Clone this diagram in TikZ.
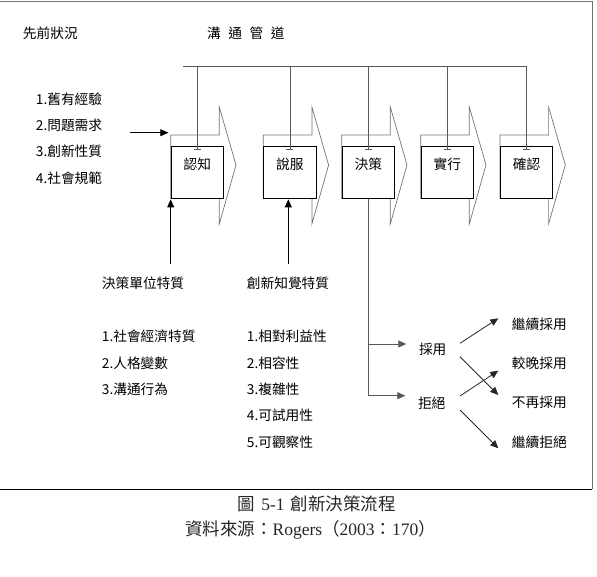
\documentclass[tikz,border=0pt]{standalone}
\usepackage{fontspec}
\setmainfont{Noto Sans CJK TC}
\newfontfamily\capserif{Liberation Serif}
\usetikzlibrary{arrows.meta}
\begin{document}
\begin{tikzpicture}[x=1pt,y=-1pt,
 txt/.style={font=\fontsize{13.7}{16}\selectfont, inner sep=0pt, anchor=west},
 lbl/.style={font=\fontsize{13.7}{16}\selectfont, inner sep=0pt},
 stagebox/.style={draw=black, line width=0.9pt, minimum width=52.3pt, minimum height=52.5pt, inner sep=0pt, anchor=north west},
 chev/.style={draw=black!55, line width=0.7pt},
 conn/.style={draw=black!65, line width=0.8pt},
 tri/.style={-{Triangle[length=8pt,width=7pt]}, line width=0.8pt},
 tee/.style={-{Bar[width=7pt]}, line width=0.8pt, draw=black!65},
 capt/.style={font=\fontsize{17.5}{20}\selectfont, inner sep=0pt, text=black!85}]
\useasboundingbox (0,0) rectangle (597,577);
% frame
\draw[black!55, line width=0.8pt] (0,1) -- (592.3,1) -- (592.3,489.3);
\draw[black, line width=1.4pt] (0,489.3) -- (592.3,489.3);
% chevrons
\foreach \L in {170.7,263.3,341.7,420.7,500}{
  \draw[chev] (\L,135) -- ({\L+48.6},135) -- ({\L+48.6},107) -- ({\L+65.3},165)
    -- ({\L+48.6},224) -- ({\L+48.6},198.5) -- (\L,198.5) -- cycle;
}
% stage boxes
\node[stagebox] (b1) at (170.7,146) {};
\node[stagebox] (b2) at (263.3,146) {};
\node[stagebox] (b3) at (341.7,146) {};
\node[stagebox] (b4) at (420.7,146) {};
\node[stagebox] (b5) at (500,146) {};
\node[lbl, yshift=8pt] (l1) at (b1.center) {認知};
\node[lbl, yshift=8pt] (l2) at (b2.center) {說服};
\node[lbl, yshift=8pt] (l3) at (b3.center) {決策};
\node[lbl, yshift=8pt] (l4) at (b4.center) {實行};
\node[lbl, yshift=8pt] (l5) at (b5.center) {確認};
% headings
\node[txt] (prior) at (22.7,33.3) {先前狀況};
\node[txt] (chan) at (207,33.3) {溝\hspace{7.5pt}通\hspace{7.5pt}管\hspace{7.5pt}道};
% communication channel bus
\coordinate (busL) at (183.3,66.7);
\draw[conn] (busL) -- (b5.north |- busL);
\foreach \i in {1,...,5}{
  \draw[tee] (b\i.north |- busL) -- ([yshift=-4pt]b\i.north);
}
% prior conditions
\node[txt] (p1) at (35.7,99) {1.舊有經驗};
\node[txt] (p2) at (35.7,125.7) {2.問題需求};
\node[txt] (p3) at (35.7,151.7) {3.創新性質};
\node[txt] (p4) at (35.7,178.3) {4.社會規範};
\coordinate (inS) at (130,132.7);
\coordinate (inE) at (168.3,132.7);
\draw[tri] (inS) -- (inE);
% characteristics
\node[txt] (du) at (101.7,283.3) {決策單位特質};
\node[txt] (pi) at (246.7,283.3) {創新知覺特質};
\coordinate (u1) at (170.7,264);
\coordinate (u2) at (288.3,264);
\draw[tri] (u1) -- (b1.south west);
\draw[tri] (u2) -- (u2 |- b2.south);
\node[txt] (d1) at (101.7,336.7) {1.社會經濟特質};
\node[txt] (d2) at (101.7,363.3) {2.人格變數};
\node[txt] (d3) at (101.7,389.3) {3.溝通行為};
\node[txt] (c1) at (246.7,336.7) {1.相對利益性};
\node[txt] (c2) at (246.7,363.3) {2.相容性};
\node[txt] (c3) at (246.7,389.3) {3.複雜性};
\node[txt] (c4) at (246.7,415.7) {4.可試用性};
\node[txt] (c5) at (246.7,442.3) {5.可觀察性};
% decision outcomes
\node[lbl, inner xsep=12.5pt] (adopt) at (432.7,349.3) {採用};
\node[lbl, inner xsep=12.5pt] (reject) at (431.7,403.3) {拒絕};
\coordinate (j1) at (b3.south |- 0,344);
\coordinate (j2) at (b3.south |- 0,395.7);
\draw[conn] (b3.south) -- (j2);
\draw[conn, tri] (j1) -- (adopt.west |- j1);
\draw[conn, tri] (j2) -- (reject.west |- j2);
\node[txt] (o1) at (511.7,324) {繼續採用};
\node[txt] (o2) at (511.7,363.3) {較晚採用};
\node[txt] (o3) at (511.7,402.7) {不再採用};
\node[txt] (o4) at (511.7,442.3) {繼續拒絕};
\coordinate (a1s) at (460,343.3); \coordinate (a1e) at (498.3,318.3);
\coordinate (a2s) at (460,356.7); \coordinate (a2e) at (498.3,395);
\coordinate (r1s) at (460,396);   \coordinate (r1e) at (498.3,370.7);
\coordinate (r2s) at (460,410);   \coordinate (r2e) at (498.3,448.3);
\draw[tri, black!85] (a1s) -- (a1e);
\draw[tri, black!85] (a2s) -- (a2e);
\draw[tri, black!85] (r1s) -- (r1e);
\draw[tri, black!85] (r2s) -- (r2e);
% caption
\node[capt] (cap1) at (316.7,503.3) {圖\hspace{6pt}{\capserif 5-1}\hspace{6pt}創新決策流程};
\node[capt] (cap2) at (310.5,530) {資料來源：{\capserif Rogers}（{\capserif 2003}：{\capserif 170}）};
\end{tikzpicture}
\end{document}
